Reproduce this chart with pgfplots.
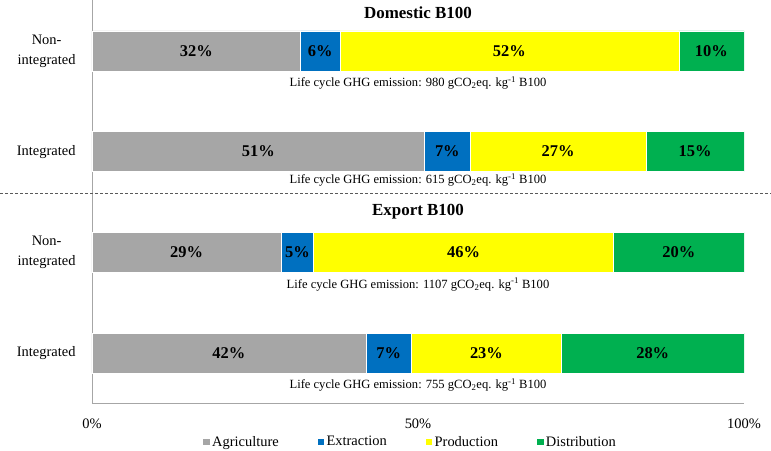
\documentclass[border=0pt]{standalone}
\usepackage{pgfplots}
\pgfplotsset{compat=1.18}
\usepackage{pgfplotstable}
\usepackage{fontspec}
\setmainfont{Liberation Serif}
\definecolor{cAgri}{HTML}{A6A6A6}
\definecolor{cExtr}{HTML}{0070C0}
\definecolor{cProd}{HTML}{FFFF00}
\definecolor{cDist}{HTML}{00B050}
\definecolor{axisgray}{HTML}{A6A6A6}

\pgfplotstableread{
row agri extr prod dist
3 32 6 52 10
2 51 7 27 15
1 29 5 46 20
0 42 7 23 28
}\shares

\pgfplotstableread{
x y lab
16 3 32
35 3 6
64 3 52
95 3 10
25.5 2 51
54.5 2 7
71.5 2 27
92.5 2 15
14.5 1 29
31.5 1 5
57 1 46
90 1 20
21 0 42
45.5 0 7
60.5 0 23
86 0 28
}\pctlabels

\pgfplotstableread{
x y val
50 2.68 980
50 1.72 615
50 0.68 1107
50 -0.32 755
}\emis

\begin{document}
\begin{tikzpicture}
\pgfplotsset{
  common/.style={scale only axis, width=652bp, height=403bp, xmin=0, xmax=100, ymin=-0.4965, ymax=3.506},
}
\begin{axis}[common,
  xbar stacked, bar width=40bp,
  axis x line*=bottom, axis y line*=left,
  axis line style={axisgray, line width=0.8bp},
  xtick={0,50,100}, xticklabels={0\%,50\%,100\%},
  ytick={0,1,2,3}, yticklabels={Integrated, {Non-\\integrated}, Integrated, {Non-\\integrated}},
  yticklabel style={align=center, font=\fontsize{14.5}{20}\selectfont, xshift=-13bp},
  xticklabel style={font=\fontsize{14.5}{16}\selectfont, yshift=-12bp},
  major tick length=0pt,
  legend style={at={(0.5,0)}, anchor=north, yshift=-29bp, xshift=-8bp, draw=none, font=\fontsize{14.5}{16}\selectfont, /tikz/every even column/.append style={column sep=36bp}},
  legend columns=4,
  legend cell align=left,
  legend image code/.code={\fill[#1] (0bp,-3.5bp) rectangle (7.5bp,4bp);},
]
\addplot[fill=cAgri, draw=white, line width=0.4bp] table[x=agri,y=row]{\shares};
\addplot[fill=cExtr, draw=white, line width=0.4bp] table[x=extr,y=row]{\shares};
\addplot[fill=cProd, draw=white, line width=0.4bp] table[x=prod,y=row]{\shares};
\addplot[fill=cDist, draw=white, line width=0.4bp] table[x=dist,y=row]{\shares};
\legend{Agriculture, Extraction, Production, Distribution}
\coordinate (O) at (rel axis cs:0,0);
\end{axis}
\begin{axis}[common, hide axis, clip=false]
\addplot[draw=none, mark=none, nodes near coords={\pgfplotspointmeta\%}, point meta=explicit symbolic,
  every node near coord/.style={anchor=center, font=\bfseries\fontsize{16.5}{18}\selectfont, inner sep=0pt}]
  table[x=x,y=y,meta=lab]{\pctlabels};
\addplot[draw=none, mark=none, nodes near coords={Life cycle GHG emission: \pgfplotspointmeta\ gCO\textsubscript{2}eq. kg\textsuperscript{-1} B100}, point meta=explicit symbolic,
  every node near coord/.style={anchor=center, font=\fontsize{12.6}{14}\selectfont, inner sep=0pt}]
  table[x=x,y=y,meta=val]{\emis};
\node[font=\bfseries\fontsize{17}{19}\selectfont] at (axis cs:50,3.377) {Domestic B100};
\node[font=\bfseries\fontsize{17}{19}\selectfont] at (axis cs:50,1.401) {Export B100};
\draw[black!65, dash pattern=on 3bp off 2bp, line width=0.8bp] (axis cs:-14.11,1.59) -- (axis cs:104.14,1.59);
\end{axis}
\pgfresetboundingbox
\path (O) ++(-92bp,-48bp) rectangle ++(771bp,451bp);
\end{tikzpicture}
\end{document}
